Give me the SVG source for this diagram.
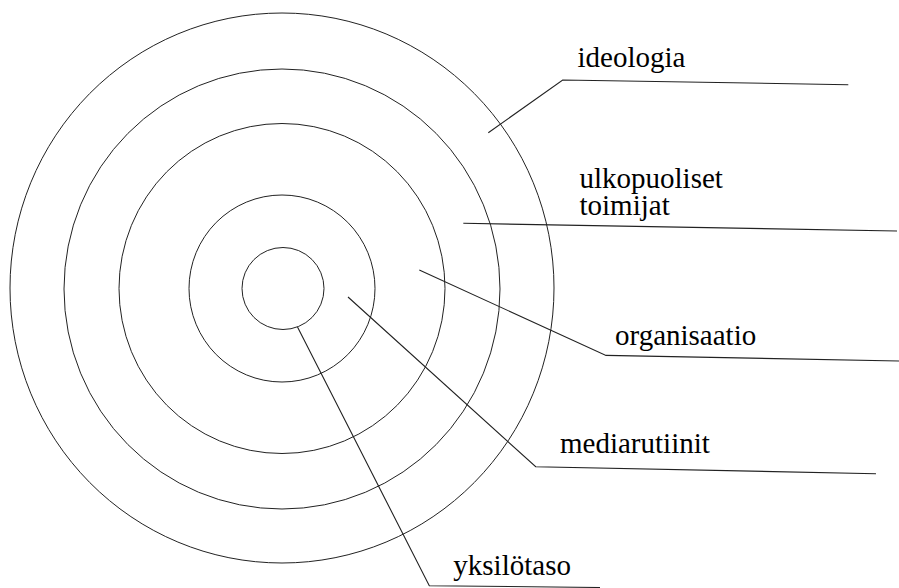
<svg xmlns="http://www.w3.org/2000/svg" width="899" height="588" viewBox="0 0 899 588">
<style>
.ring{fill:none;stroke:#222;stroke-width:1}
.lead{fill:none;stroke:#222;stroke-width:1.1}
text{font-family:'Liberation Serif','Times New Roman','DejaVu Serif',serif;font-size:29px;fill:#000}
</style>
<rect width="899" height="588" fill="#fff"/>
<g id="ring-ideologia"><ellipse class="ring" cx="282" cy="288" rx="272" ry="275"/></g>
<g id="ring-ulkopuoliset"><ellipse class="ring" cx="282" cy="289" rx="218" ry="220"/></g>
<g id="ring-organisaatio"><ellipse class="ring" cx="282" cy="288.5" rx="163" ry="165"/></g>
<g id="ring-mediarutiinit"><ellipse class="ring" cx="282" cy="288.5" rx="93" ry="93.5"/></g>
<g id="ring-yksilotaso"><circle class="ring" cx="283" cy="288.5" r="41"/></g>
<g id="connectors">
<polyline class="lead" points="488.3,132.7 562.7,80 848.3,84.7"/>
<polyline class="lead" points="463.3,223.3 897,231"/>
<polyline class="lead" points="419.3,270 606,355.4 899,361"/>
<polyline class="lead" points="348,297 535.7,466.7 876,473.7"/>
<polyline class="lead" points="297.5,327 429.3,585.7 600,587.5"/>
</g>
<g id="label-ideologia"><text font-family="Liberation Serif, serif" x="577.5" y="66.5">ideologia</text></g>
<g id="label-ulkopuoliset"><text font-family="Liberation Serif, serif" x="579.5" y="187.5">ulkopuoliset<tspan x="579.5" y="215">toimijat</tspan></text></g>
<g id="label-organisaatio"><text font-family="Liberation Serif, serif" x="615" y="345">organisaatio</text></g>
<g id="label-mediarutiinit"><text font-family="Liberation Serif, serif" x="560" y="453.3">mediarutiinit</text></g>
<g id="label-yksilotaso"><text font-family="Liberation Serif, serif" x="453.3" y="575">yksilötaso</text></g>
</svg>
